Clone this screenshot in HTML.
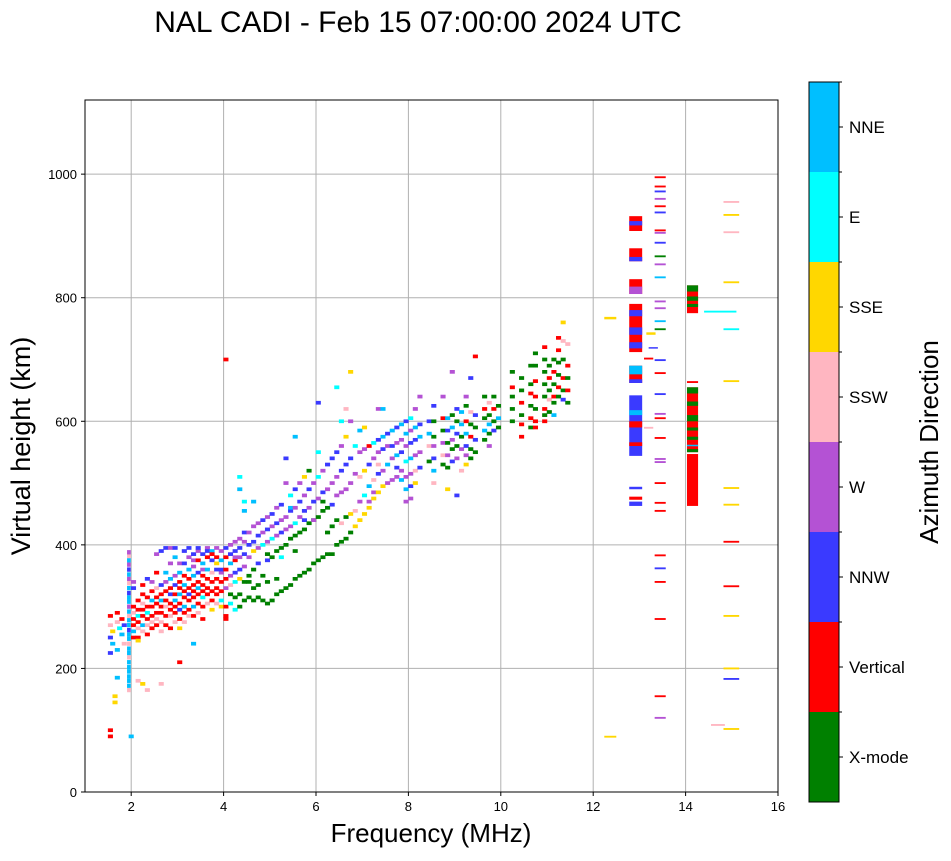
<!DOCTYPE html>
<html><head><meta charset="utf-8"><style>
body{margin:0;background:#fff;width:951px;height:856px;overflow:hidden;font-family:"Liberation Sans",sans-serif}
svg text{font-family:"Liberation Sans",sans-serif}
</style></head><body>
<svg id="chart" width="951" height="856" xmlns="http://www.w3.org/2000/svg">
<text x="418" y="32" font-size="30" text-anchor="middle">NAL CADI - Feb 15 07:00:00 2024 UTC</text>
<g id="grid"></g>
<g id="marks" clip-path="url(#clip)"></g>
<defs><clipPath id="clip"><rect x="85" y="100" width="693" height="692"/></clipPath></defs>
<rect x="85" y="100" width="693" height="692" fill="none" stroke="#000" stroke-width="1"/>
<g id="axes"></g>
<text x="431" y="842" font-size="26" text-anchor="middle">Frequency (MHz)</text>
<text transform="translate(30,446) rotate(-90)" font-size="27" text-anchor="middle">Virtual height (km)</text>
<g id="cbar"></g>
<text transform="translate(938,442) rotate(-90)" font-size="26" text-anchor="middle">Azimuth Direction</text>
</svg>
<script>
const categories=["X-mode","Vertical","NNW","W","SSW","SSE","E","NNE"];
const catColors=["#008000","#ff0000","#3a3aff","#b452d4","#ffb6c1","#ffd700","#00ffff","#00bfff"];
const xTicks=[2,4,6,8,10,12,14,16];
const yTicks=[0,200,400,600,800,1000];
const strip195=[[165,4],[172,7],[180,7],[187,7],[195,7],[202,7],[210,7],[218,4],[225,7],[232,7],[240,4],[248,7],[255,7],[262,2],[270,7],[278,7],[285,4],[292,7],[300,3],[308,7],[315,7],[322,2],[330,7],[338,4],[345,3],[352,7],[360,2],[368,3],[375,7],[382,4],[388,3]];
const echoesLow=[[1.55,285,1],[1.55,270,4],[1.6,260,5],[1.55,250,2],[1.6,240,7],[1.55,225,2],[1.7,290,1],[1.7,275,4],[1.75,265,6],[1.8,280,1],[1.8,255,7],[1.85,270,2],[1.85,240,4],[1.7,230,7],[1.55,100,1],[1.55,90,1],[1.65,155,5],[1.65,145,5],[1.7,185,7],[2.0,90,7],
[2.05,300,1],[2.05,290,4],[2.05,280,1],[2.05,270,1],[2.05,260,7],[2.05,250,1],[2.05,340,3],[2.05,330,2],
[2.15,310,1],[2.15,295,1],[2.15,285,6],[2.15,275,1],[2.15,265,4],[2.15,250,1],[2.15,245,5],[2.15,180,4],
[2.25,320,1],[2.25,305,4],[2.25,295,1],[2.25,285,1],[2.25,270,7],[2.25,260,4],[2.25,335,1],[2.25,175,5],
[2.35,315,1],[2.35,300,1],[2.35,290,6],[2.35,280,1],[2.35,270,4],[2.35,255,1],[2.35,345,2],[2.35,165,4],
[2.45,325,1],[2.45,310,7],[2.45,300,1],[2.45,285,1],[2.45,275,4],[2.45,265,1],[2.45,340,3],
[2.55,330,4],[2.55,315,1],[2.55,305,1],[2.55,290,1],[2.55,280,4],[2.55,270,1],[2.55,355,1],[2.55,385,3],
[2.65,335,2],[2.65,320,1],[2.65,310,7],[2.65,300,1],[2.65,290,1],[2.65,275,4],[2.65,260,4],[2.65,390,2],[2.65,175,4],
[2.75,340,3],[2.75,325,1],[2.75,310,1],[2.75,300,4],[2.75,285,1],[2.75,270,1],[2.75,355,7],[2.75,395,2],
[2.85,345,7],[2.85,330,1],[2.85,320,2],[2.85,305,1],[2.85,295,1],[2.85,285,4],[2.85,265,1],[2.85,370,3],[2.85,395,3],
[2.95,350,3],[2.95,335,2],[2.95,320,1],[2.95,310,7],[2.95,300,1],[2.95,290,1],[2.95,275,4],[2.95,380,7],[2.95,395,2],
[3.05,355,7],[3.05,340,1],[3.05,330,1],[3.05,320,7],[3.05,305,1],[3.05,295,2],[3.05,280,1],[3.05,265,5],[3.05,210,1],[3.05,370,3],
[3.15,370,2],[3.15,350,1],[3.15,335,7],[3.15,325,1],[3.15,315,1],[3.15,300,7],[3.15,290,1],[3.15,275,4],[3.15,390,2],
[3.25,380,3],[3.25,360,7],[3.25,345,1],[3.25,330,1],[3.25,320,2],[3.25,310,1],[3.25,295,1],[3.25,285,4],[3.25,395,2],
[3.35,385,2],[3.35,365,3],[3.35,350,7],[3.35,335,1],[3.35,325,1],[3.35,315,1],[3.35,300,7],[3.35,285,1],[3.35,240,7],[3.35,375,3],
[3.45,390,3],[3.45,375,1],[3.45,355,2],[3.45,340,1],[3.45,330,7],[3.45,320,1],[3.45,305,1],[3.45,290,4],[3.45,395,2],
[3.55,385,2],[3.55,370,7],[3.55,350,1],[3.55,335,1],[3.55,325,1],[3.55,315,6],[3.55,300,1],[3.55,280,1],[3.55,360,3],
[3.65,395,3],[3.65,380,1],[3.65,360,7],[3.65,345,1],[3.65,330,1],[3.65,320,1],[3.65,305,4],[3.65,390,2],
[3.75,390,7],[3.75,375,2],[3.75,355,4],[3.75,340,1],[3.75,325,1],[3.75,310,1],[3.75,295,5],[3.75,385,1],
[3.85,395,3],[3.85,380,1],[3.85,360,2],[3.85,345,1],[3.85,330,1],[3.85,320,1],[3.85,305,4],[3.85,370,5],
[3.95,390,3],[3.95,375,7],[3.95,355,3],[3.95,340,1],[3.95,325,1],[3.95,310,6],[3.95,300,5],[3.95,360,2],
[4.05,395,2],[4.05,380,1],[4.05,360,1],[4.05,345,1],[4.05,330,3],[4.05,300,1],[4.05,285,1],[4.05,700,1],[4.05,280,1]];
const echoesMid=[[4.15,400,3],[4.15,385,2],[4.15,370,7],[4.15,350,3],[4.15,335,4],[4.15,320,0],[4.15,305,6],
[4.25,405,3],[4.25,390,2],[4.25,375,1],[4.25,355,2],[4.25,340,6],[4.25,315,0],[4.25,295,6],[4.25,380,3],
[4.35,410,3],[4.35,395,2],[4.35,380,3],[4.35,360,2],[4.35,345,5],[4.35,320,0],[4.35,300,0],[4.35,490,7],[4.35,510,6],
[4.45,420,2],[4.45,405,3],[4.45,385,2],[4.45,365,3],[4.45,340,0],[4.45,310,0],[4.45,470,6],[4.45,455,7],
[4.55,420,3],[4.55,400,2],[4.55,380,3],[4.55,350,0],[4.55,315,0],[4.55,340,0],
[4.65,430,3],[4.65,405,2],[4.65,390,5],[4.65,360,0],[4.65,330,0],[4.65,310,0],[4.65,470,7],
[4.75,435,3],[4.75,415,2],[4.75,395,3],[4.75,370,2],[4.75,335,0],[4.75,315,0],
[4.85,440,2],[4.85,420,3],[4.85,400,6],[4.85,350,0],[4.85,310,0],
[4.95,445,3],[4.95,425,2],[4.95,405,3],[4.95,375,2],[4.95,340,0],[4.95,305,0],[4.95,385,0],
[5.05,450,2],[5.05,430,3],[5.05,410,6],[5.05,380,0],[5.05,310,0],
[5.15,460,3],[5.15,435,2],[5.15,415,3],[5.15,390,0],[5.15,320,0],[5.15,345,0],
[5.25,465,2],[5.25,440,3],[5.25,420,2],[5.25,395,0],[5.25,325,0],[5.25,380,6],
[5.35,540,2],[5.35,500,3],[5.35,445,3],[5.35,425,3],[5.35,400,0],[5.35,330,0],
[5.45,480,6],[5.45,455,2],[5.45,430,3],[5.45,410,0],[5.45,335,0],[5.45,460,7],
[5.55,490,2],[5.55,460,3],[5.55,435,6],[5.55,415,0],[5.55,345,0],[5.55,575,7],[5.55,390,0],
[5.65,500,3],[5.65,470,2],[5.65,445,3],[5.65,420,0],[5.65,350,0],
[5.75,510,5],[5.75,480,3],[5.75,455,2],[5.75,425,0],[5.75,355,0],[5.75,440,2],
[5.85,520,0],[5.85,490,2],[5.85,460,3],[5.85,435,0],[5.85,360,0],
[5.95,500,3],[5.95,470,2],[5.95,440,0],[5.95,370,0],[5.95,440,3],
[6.05,630,2],[6.05,510,6],[6.05,475,3],[6.05,445,0],[6.05,375,0],[6.05,550,6],
[6.15,520,3],[6.15,485,2],[6.15,455,0],[6.15,380,0],[6.15,470,0],
[6.25,530,2],[6.25,490,3],[6.25,460,0],[6.25,385,0],[6.25,420,0],
[6.35,540,2],[6.35,500,3],[6.35,465,2],[6.35,385,0],[6.35,430,0],
[6.45,655,6],[6.45,550,2],[6.45,510,3],[6.45,480,3],[6.45,400,0],[6.45,440,0],
[6.55,600,6],[6.55,560,3],[6.55,520,2],[6.55,485,3],[6.55,405,0],[6.55,435,4],
[6.65,620,4],[6.65,575,5],[6.65,530,2],[6.65,490,3],[6.65,410,0],[6.65,445,0],
[6.75,680,5],[6.75,600,3],[6.75,540,2],[6.75,500,3],[6.75,420,0],[6.75,450,5],
[6.85,560,6],[6.85,515,3],[6.85,430,5],[6.85,455,4],
[6.95,585,7],[6.95,550,3],[6.95,510,4],[6.95,440,5],[6.95,470,3],
[7.05,590,5],[7.05,555,3],[7.05,520,5],[7.05,480,6],[7.05,450,5],
[7.15,560,1],[7.15,530,2],[7.15,495,7],[7.15,460,5],[7.15,470,3],
[7.25,565,6],[7.25,540,3],[7.25,505,4],[7.25,475,5],[7.25,485,3],
[7.35,620,3],[7.35,570,2],[7.35,550,3],[7.35,515,2],[7.35,485,5],[7.35,530,4],
[7.45,620,7],[7.45,575,7],[7.45,555,2],[7.45,520,3],[7.45,495,5],
[7.55,580,2],[7.55,560,3],[7.55,530,7],[7.55,500,3],
[7.65,585,7],[7.65,560,2],[7.65,540,3],[7.65,505,3],
[7.75,590,2],[7.75,565,3],[7.75,545,7],[7.75,510,3],[7.75,525,2],
[7.85,595,7],[7.85,570,3],[7.85,550,2],[7.85,520,3],[7.85,505,7],
[7.95,600,2],[7.95,580,7],[7.95,560,3],[7.95,535,6],[7.95,510,3],[7.95,490,7],[7.95,470,3]];
const echoesHigh=[[8.05,605,6],[8.05,585,3],[8.05,565,2],[8.05,540,7],[8.05,515,3],[8.05,495,2],[8.05,475,3],
[8.15,620,3],[8.15,590,7],[8.15,570,2],[8.15,545,3],[8.15,520,4],[8.15,500,5],
[8.25,640,3],[8.25,595,2],[8.25,575,7],[8.25,550,3],[8.25,525,2],
[8.45,600,2],[8.45,580,7],[8.45,560,4],[8.45,535,0],
[8.55,625,2],[8.55,600,0],[8.55,575,0],[8.55,560,3],[8.55,540,2],[8.55,520,7],[8.55,500,4],
[8.75,640,3],[8.75,605,1],[8.75,585,0],[8.75,565,3],[8.75,545,4],[8.75,530,0],
[8.85,605,7],[8.85,585,2],[8.85,565,0],[8.85,545,3],[8.85,525,0],[8.85,490,5],
[8.95,680,3],[8.95,610,0],[8.95,590,7],[8.95,570,3],[8.95,555,0],[8.95,535,2],
[9.05,620,2],[9.05,600,0],[9.05,580,2],[9.05,560,0],[9.05,540,3],[9.05,480,2],
[9.15,615,7],[9.15,595,7],[9.15,575,0],[9.15,555,3],[9.15,520,4],
[9.25,640,3],[9.25,625,0],[9.25,600,1],[9.25,580,7],[9.25,560,2],[9.25,545,3],[9.25,530,5],
[9.35,670,2],[9.35,615,4],[9.35,595,0],[9.35,575,1],[9.35,555,0],[9.35,540,0],
[9.45,705,1],[9.45,610,2],[9.45,590,0],[9.45,570,2],[9.45,550,0],
[9.65,640,0],[9.65,620,1],[9.65,605,0],[9.65,585,7],[9.65,570,0],
[9.75,630,4],[9.75,610,0],[9.75,595,7],[9.75,580,0],[9.75,560,3],
[9.85,640,0],[9.85,620,1],[9.85,600,0],[9.85,585,2],
[9.95,625,0],[9.95,605,7],[9.95,590,0],
[10.25,680,0],[10.25,640,0],[10.25,620,0],[10.25,600,0],[10.25,655,1],
[10.45,670,0],[10.45,650,0],[10.45,630,1],[10.45,610,0],[10.45,595,1],[10.45,575,1],
[10.65,690,0],[10.65,660,0],[10.65,645,1],[10.65,625,0],[10.65,605,1],[10.65,590,0],
[10.75,710,0],[10.75,690,0],[10.75,665,1],[10.75,640,1],[10.75,620,0],[10.75,600,1],[10.75,590,1],
[10.95,720,1],[10.95,700,0],[10.95,680,0],[10.95,660,0],[10.95,640,0],[10.95,620,1],[10.95,610,0],[10.95,600,1],
[11.05,690,0],[11.05,670,1],[11.05,650,0],[11.05,635,4],[11.05,615,0],
[11.15,700,0],[11.15,680,1],[11.15,660,0],[11.15,640,1],[11.15,630,0],[11.15,610,7],
[11.25,735,1],[11.25,715,1],[11.25,695,0],[11.25,675,0],[11.25,655,1],[11.25,640,0],
[11.35,760,5],[11.35,730,4],[11.35,700,0],[11.35,670,1],[11.35,650,0],[11.35,635,2],
[11.45,725,4],[11.45,690,1],[11.45,670,0],[11.45,650,1],[11.45,630,0]];
const segments=[[12.37,765,769,5,0.26],[12.37,88,91,5,0.26],
[12.92,908,932,1,0.28],[12.92,917,924,2,0.28],[12.92,859,880,1,0.28],[12.92,859,866,2,0.28],[12.92,806,830,1,0.28],[12.92,806,818,3,0.28],[12.92,712,790,1,0.28],[12.92,770,780,2,0.28],[12.92,740,752,2,0.28],[12.92,718,728,2,0.28],[12.92,662,690,1,0.28],[12.92,676,690,7,0.28],[12.92,662,668,2,0.28],[12.92,544,642,2,0.28],[12.92,590,600,1,0.28],[12.92,610,618,7,0.28],[12.92,560,566,1,0.28],[12.92,463,470,2,0.28],[12.92,473,478,1,0.28],[12.92,490,494,2,0.28],
[13.25,740,744,5,0.2],[13.2,588,591,4,0.2],[13.2,700,703,1,0.2],[13.3,718,720,2,0.2]];
const lines1345=[[995,1],[980,1],[972,2],[960,3],[948,1],[938,2],[909,1],[905,3],[889,2],[867,0],[854,3],[833,7],[794,3],[783,3],[762,7],[749,0],[699,2],[678,1],[644,2],[612,3],[605,1],[573,1],[539,3],[534,3],[500,1],[468,1],[455,1],[383,1],[362,2],[340,1],[280,1],[155,1],[120,3]];
const col1415=[[775,820,1],[810,820,0],[795,802,0],[785,790,0],[662,665,1],[550,655,1],[645,655,0],[625,632,0],[600,610,0],[585,590,0],[570,575,0],[560,562,7],[550,555,0],[463,547,1]];
const lines1500=[[955,4],[934,5],[906,4],[825,5],[749,6],[665,5],[492,5],[465,5],[405,1],[333,1],[285,5],[200,5],[183,2],[102,5]];

const svg=document.getElementById('chart');
const NS='http://www.w3.org/2000/svg';
const X0=85,X1=778,Y0=792,Y1=100;
const xs=f=>X0+(f-1)/(16-1)*(X1-X0);
const ys=h=>Y0-h/1120*(Y0-Y1);
function mk(tag,attrs,parent){const e=document.createElementNS(NS,tag);for(const k in attrs)e.setAttribute(k,attrs[k]);parent.appendChild(e);return e;}
const grid=document.getElementById('grid'),axes=document.getElementById('axes'),marks=document.getElementById('marks');
xTicks.forEach(t=>{const x=xs(t);
 const g=mk('line',{x1:x,x2:x,y1:Y1,y2:Y0,stroke:'#b0b0b0','stroke-width':1},grid);
 
 
 mk('line',{x1:x,x2:x,y1:Y0,y2:Y0+4,stroke:'#000'},axes);
 const l=mk('text',{x:x,y:Y0+19,'font-size':13,'text-anchor':'middle'},axes);l.textContent=t;
 
 });
yTicks.forEach(t=>{const y=ys(t);
 const g=mk('line',{x1:X0,x2:X1,y1:y,y2:y,stroke:'#b0b0b0','stroke-width':1},grid);
 
 
 mk('line',{x1:X0-4,x2:X0,y1:y,y2:y,stroke:'#000'},axes);
 const l=mk('text',{x:X0-8,y:y+5,'font-size':13,'text-anchor':'end'},axes);l.textContent=t;
 
 });
function cell(f,h0,h1,c,w){const r=mk('rect',{x:xs(f-w/2),y:ys(h1),width:xs(f+w/2)-xs(f-w/2),height:Math.max(1.5,ys(h0)-ys(h1)),fill:catColors[c]},marks);
 
 }
strip195.forEach(p=>cell(1.95,p[0]-3.5,p[0]+3.5,p[1],0.08));
[echoesLow,echoesMid,echoesHigh].forEach(arr=>arr.forEach(p=>cell(p[0],p[1]-3,p[1]+3,p[2],0.11)));
segments.forEach(s=>cell(s[0],s[1],s[2],s[3],s[4]));
lines1345.forEach(p=>cell(13.45,p[0]-1.5,p[0]+1.5,p[1],0.24));
col1415.forEach(p=>cell(14.15,p[0],p[1],p[2],0.24));
lines1500.forEach(p=>cell(14.99,p[0]-1.5,p[0]+1.5,p[1],0.34));
cell(14.75,776,779,6,0.7);cell(14.7,107,110,4,0.3);
const cb=document.getElementById('cbar');const CX=809,CW=30,CT=82,CB=802,seg=(CB-CT)/categories.length;
categories.forEach((n,i)=>{const y=CB-(i+1)*seg;
 const r=mk('rect',{x:CX,y:y,width:CW,height:seg,fill:catColors[i]},cb);
 
 
 mk('line',{x1:CX+CW,x2:CX+CW+4,y1:y+seg/2,y2:y+seg/2,stroke:'#000'},cb);
 mk('line',{x1:CX+CW,x2:CX+CW+3,y1:y,y2:y,stroke:'#000'},cb);
 const t=mk('text',{x:CX+CW+10,y:y+seg/2+6,'font-size':17},cb);t.textContent=n;
 
 });
mk('rect',{x:CX,y:CT,width:CW,height:CB-CT,fill:'none',stroke:'#000'},cb);
</script>
</body></html>
